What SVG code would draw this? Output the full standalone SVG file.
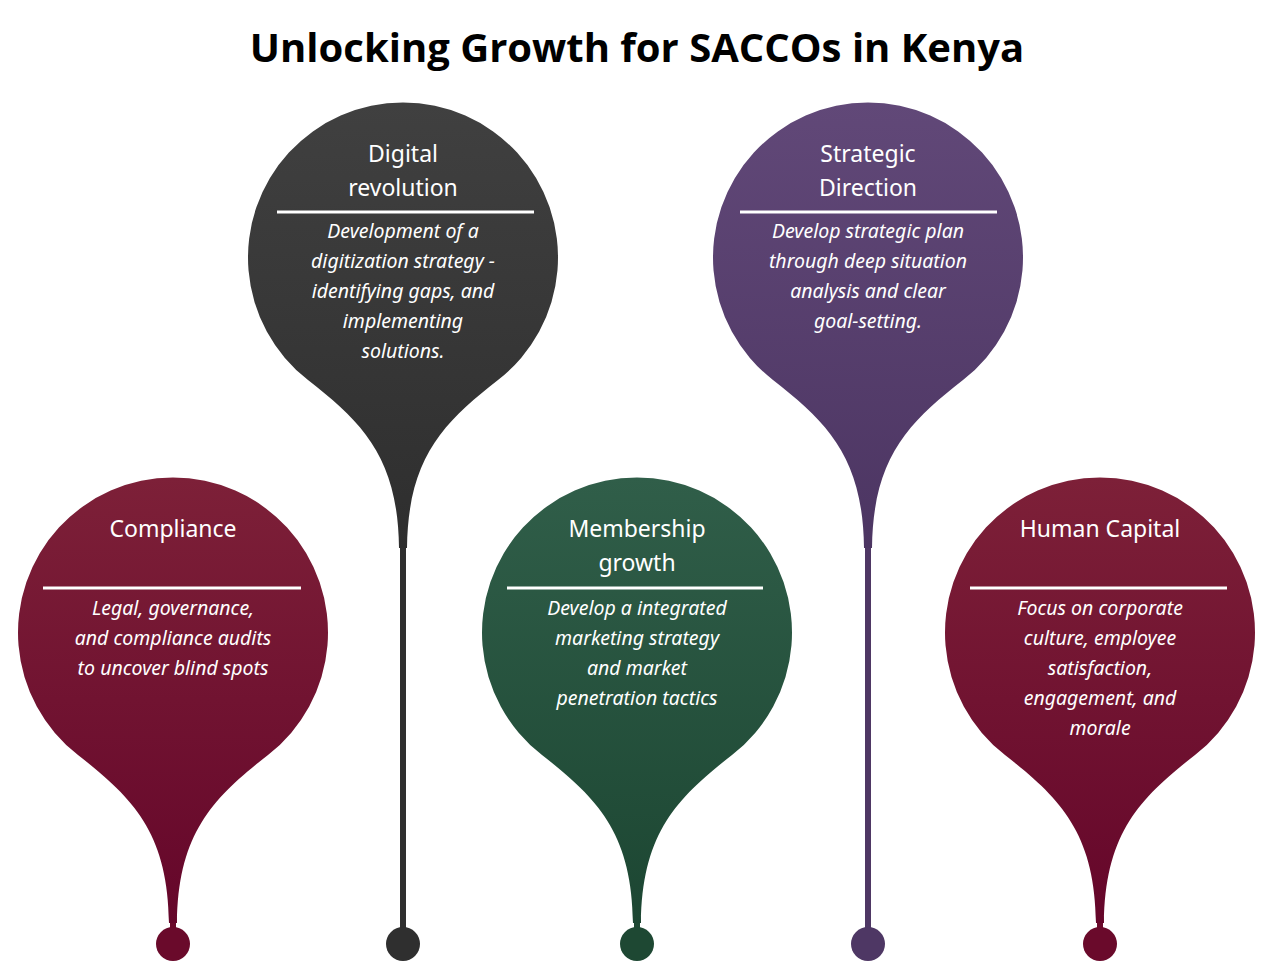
<svg xmlns="http://www.w3.org/2000/svg" width="1274" height="980" viewBox="0 0 1274 980">
<style>
.h{font-family:"Noto Sans","Open Sans",sans-serif;font-size:23px;fill:#fff;text-anchor:middle}
.b{font-family:"Noto Sans","Open Sans",sans-serif;font-size:19.5px;fill:#fff;text-anchor:middle;font-style:italic}
.sep{stroke:#fff;stroke-width:3}
</style>
<defs>
<linearGradient id="gr" x1="0" y1="0" x2="0" y2="1"><stop offset="0" stop-color="#7d2038"/><stop offset="1" stop-color="#65062a"/></linearGradient>
<linearGradient id="gd" x1="0" y1="0" x2="0" y2="1"><stop offset="0" stop-color="#404040"/><stop offset="1" stop-color="#2e2e2e"/></linearGradient>
<linearGradient id="gg" x1="0" y1="0" x2="0" y2="1"><stop offset="0" stop-color="#305e49"/><stop offset="1" stop-color="#1c4632"/></linearGradient>
<linearGradient id="gp" x1="0" y1="0" x2="0" y2="1"><stop offset="0" stop-color="#614878"/><stop offset="1" stop-color="#4c3562"/></linearGradient>
<path id="drop" d="M -95,122 A 155 155 0 1 1 95,122 C 40,165 5,200 4,290 L -4,290 C -5,200 -40,165 -95,122 Z"/>
</defs>
<rect width="1274" height="980" fill="#fff"/>
<text x="637" y="62" font-family="'Open Sans','Liberation Sans',sans-serif" font-size="40" font-weight="bold" text-anchor="middle" fill="#000">Unlocking Growth for SACCOs in Kenya</text>
<g id="connectors">
<rect x="170" y="900" width="6" height="44" fill="#6a0a2b"/>
<rect x="400" y="520" width="6" height="424" fill="#2f2f2f"/>
<rect x="634" y="900" width="6" height="44" fill="#1e4833"/>
<rect x="865" y="520" width="6" height="424" fill="#4e3764"/>
<rect x="1097" y="900" width="6" height="44" fill="#6a0a2b"/>
</g>
<g id="compliance" transform="translate(173,633)">
<use href="#drop" fill="url(#gr)"/><circle cy="311" r="17" fill="#6a0a2b"/>
<line class="sep" x1="-130" y1="-45" x2="128" y2="-45"/>
<text class="h" y="-96">Compliance</text>
<text class="b" y="-18">Legal, governance,</text><text class="b" y="12">and compliance audits</text><text class="b" y="42">to uncover blind spots</text>
</g>
<g id="digital" transform="translate(403,258)">
<use href="#drop" fill="url(#gd)"/><circle cy="686" r="17" fill="#2f2f2f"/>
<line class="sep" x1="-126" y1="-46" x2="131" y2="-46"/>
<text class="h" y="-96">Digital</text><text class="h" y="-62">revolution</text>
<text class="b" y="-20">Development of a</text><text class="b" y="10">digitization strategy -</text><text class="b" y="40">identifying gaps, and</text><text class="b" y="70">implementing</text><text class="b" y="100">solutions.</text>
</g>
<g id="membership" transform="translate(637,633)">
<use href="#drop" fill="url(#gg)"/><circle cy="311" r="17" fill="#1e4833"/>
<line class="sep" x1="-130" y1="-45" x2="126" y2="-45"/>
<text class="h" y="-96">Membership</text><text class="h" y="-62">growth</text>
<text class="b" y="-18">Develop a integrated</text><text class="b" y="12">marketing strategy</text><text class="b" y="42">and market</text><text class="b" y="72">penetration tactics</text>
</g>
<g id="strategic" transform="translate(868,258)">
<use href="#drop" fill="url(#gp)"/><circle cy="686" r="17" fill="#4e3764"/>
<line class="sep" x1="-128" y1="-46" x2="129" y2="-46"/>
<text class="h" y="-96">Strategic</text><text class="h" y="-62">Direction</text>
<text class="b" y="-20">Develop strategic plan</text><text class="b" y="10">through deep situation</text><text class="b" y="40">analysis and clear</text><text class="b" y="70">goal-setting.</text>
</g>
<g id="human-capital" transform="translate(1100,633)">
<use href="#drop" fill="url(#gr)"/><circle cy="311" r="17" fill="#6a0a2b"/>
<line class="sep" x1="-130" y1="-45" x2="127" y2="-45"/>
<text class="h" y="-96">Human Capital</text>
<text class="b" y="-18">Focus on corporate</text><text class="b" y="12">culture, employee</text><text class="b" y="42">satisfaction,</text><text class="b" y="72">engagement, and</text><text class="b" y="102">morale</text>
</g>
</svg>
